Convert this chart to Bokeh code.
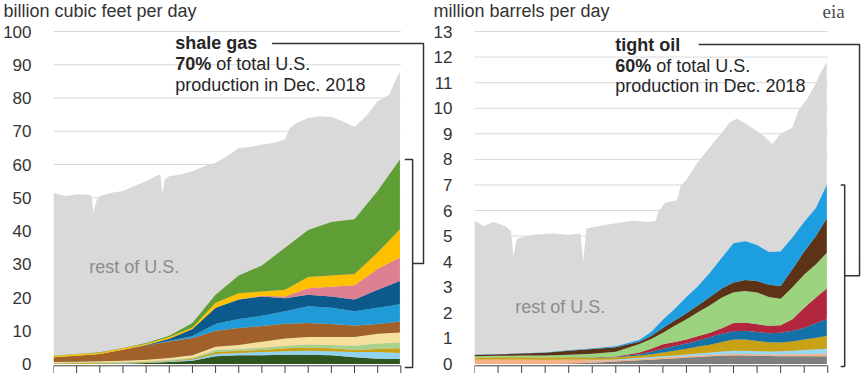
import numpy as np
from bokeh.plotting import figure
from bokeh.models import Label, Range1d, FixedTicker
from bokeh.layouts import row, column
from bokeh.embed import file_html
from bokeh.resources import INLINE

FONT = "Liberation Sans"

# ---------------- shale gas (billion cubic feet per day) ----------------
gas_total_x = [2004.0, 2004.5, 2005.0, 2005.5, 2005.65, 2005.72, 2005.85, 2006.0, 2006.5,
               2007.0, 2007.5, 2008.0, 2008.5, 2008.62, 2008.7, 2008.8, 2009.0, 2009.5,
               2010.0, 2010.5, 2011.0, 2011.5, 2012.0, 2012.5, 2013.0, 2013.5, 2014.0,
               2014.2, 2014.5, 2015.0, 2015.5, 2016.0, 2016.5, 2017.0, 2017.5, 2018.0,
               2018.5, 2018.75, 2018.96]
gas_total = [51.5, 50.5, 51.0, 51.0, 50.5, 45.5, 49.0, 50.5, 51.5,
             52.0, 53.5, 55.0, 56.8, 57.0, 51.0, 55.5, 56.5, 57.0,
             58.0, 59.5, 60.5, 62.5, 65.0, 65.3, 66.0, 66.5, 67.5,
             71.0, 72.5, 74.0, 74.5, 74.3, 73.0, 71.3, 74.5, 79.0,
             81.0, 85.0, 88.0]

gas_x = [2004, 2005, 2006, 2007, 2008, 2009, 2010, 2011, 2012, 2013, 2014, 2015, 2016,
         2017, 2018, 2018.96]
# upper boundary of each stacked play (cumulative), bottom to top
gas_dkgreen = [0.0, 0.0, 0.0, 0.1, 0.3, 0.6, 1.0, 2.3, 2.6, 2.6, 2.8, 2.8, 2.6, 2.0, 1.6, 1.5]
gas_ltblue = [0.1, 0.1, 0.1, 0.2, 0.4, 0.8, 1.3, 3.0, 3.3, 3.6, 3.8, 4.0, 3.8, 3.6, 3.6, 3.3]
gas_gold = [0.2, 0.3, 0.3, 0.4, 0.6, 1.0, 1.6, 3.6, 4.0, 4.2, 4.7, 4.9, 4.7, 4.2, 4.5, 4.7]
gas_ltgreen = [0.4, 0.5, 0.5, 0.6, 0.8, 1.2, 1.9, 4.2, 4.5, 4.9, 5.5, 5.9, 5.7, 5.5, 6.2, 6.5]
gas_ltyellow = [0.6, 0.7, 0.8, 1.0, 1.3, 1.8, 2.6, 5.2, 5.7, 6.7, 7.7, 8.1, 8.1, 8.1, 9.1, 9.5]
gas_brown = [2.0, 2.5, 3.0, 4.3, 5.6, 6.8, 7.8, 10.0, 10.8, 11.4, 12.1, 12.3, 12.0, 11.6, 12.0, 12.8]
gas_blue = [2.0, 2.5, 3.0, 4.3, 5.6, 7.0, 8.4, 12.0, 13.5, 14.5, 15.9, 17.4, 16.9, 15.9, 16.9, 18.0]
gas_dkblue = [2.0, 2.5, 3.0, 4.3, 5.7, 7.6, 10.5, 16.9, 19.4, 20.3, 19.8, 20.8, 20.3, 19.4, 22.3, 25.0]
gas_pink = [2.0, 2.5, 3.0, 4.3, 5.7, 7.6, 10.5, 16.9, 19.4, 20.5, 20.3, 22.8, 23.2, 23.7, 28.6, 32.0]
gas_yellow = [2.4, 2.9, 3.4, 4.7, 6.1, 8.1, 11.0, 18.4, 21.3, 21.8, 22.3, 26.2, 26.6, 27.1, 33.5, 40.5]
gas_green = [2.5, 3.0, 3.5, 4.8, 6.3, 8.5, 12.3, 20.8, 26.6, 29.6, 35.0, 40.3, 42.7, 43.5, 52.0, 61.5]

gas_layers = [gas_dkgreen, gas_ltblue, gas_gold, gas_ltgreen, gas_ltyellow, gas_brown,
              gas_blue, gas_dkblue, gas_pink, gas_yellow, gas_green]
gas_colors = ["#2f561f", "#8fd3ef", "#c9a114", "#a9d18e", "#f6e09e", "#a0612a",
              "#1f9bd7", "#0c5a8c", "#de7f92", "#ffc000", "#5e9e35"]
gas_ticks = [0, 10, 20, 30, 40, 50, 60, 70, 80, 90, 100]

# ---------------- tight oil (million barrels per day) ----------------
oil_total_x = [2004.0, 2004.4, 2004.8, 2005.3, 2005.55, 2005.65, 2005.8, 2006.5, 2007.3,
               2008.0, 2008.5, 2008.62, 2008.75, 2009.3, 2010.0, 2010.7, 2011.4, 2011.7,
               2011.8, 2012.1, 2012.6, 2012.75, 2013.0, 2013.45, 2014.1, 2014.55, 2014.85,
               2015.15, 2015.5, 2016.0, 2016.3, 2016.65, 2017.0, 2017.5, 2017.75, 2018.15,
               2018.45, 2018.7, 2018.96]
oil_total = [5.6, 5.4, 5.55, 5.4, 5.2, 4.2, 4.9, 5.05, 5.1,
             5.05, 5.1, 4.0, 5.3, 5.4, 5.5, 5.6, 5.55, 5.6,
             5.95, 6.3, 6.4, 6.95, 7.2, 7.85, 8.6, 9.1, 9.45,
             9.6, 9.4, 9.1, 8.9, 8.6, 9.0, 9.25, 9.9, 10.4,
             10.9, 11.4, 11.8]

oil_x = [2004, 2005, 2006, 2007, 2008, 2009, 2010, 2011, 2011.5, 2012, 2012.5, 2013, 2013.5,
         2014, 2014.5, 2015, 2015.5, 2016, 2016.5, 2017, 2017.5, 2018, 2018.5, 2018.96]
oil_gray = [0, 0, 0, 0, 0.02, 0.05, 0.1, 0.15, 0.17, 0.2, 0.22, 0.25, 0.27, 0.3, 0.32, 0.33,
            0.33, 0.32, 0.31, 0.3, 0.3, 0.3, 0.3, 0.3]
oil_peach = [0.18, 0.18, 0.18, 0.17, 0.17, 0.15, 0.15, 0.2, 0.22, 0.25, 0.28, 0.3, 0.33, 0.35,
             0.37, 0.39, 0.39, 0.38, 0.37, 0.37, 0.38, 0.38, 0.39, 0.4]
oil_ltblue = [0.18, 0.18, 0.18, 0.17, 0.18, 0.17, 0.18, 0.24, 0.27, 0.3, 0.33, 0.37, 0.41, 0.45,
              0.49, 0.52, 0.52, 0.5, 0.49, 0.5, 0.52, 0.55, 0.58, 0.6]
oil_gold = [0.25, 0.26, 0.26, 0.25, 0.26, 0.25, 0.26, 0.33, 0.38, 0.45, 0.52, 0.6, 0.68, 0.75,
            0.86, 0.96, 0.96, 0.9, 0.85, 0.84, 0.88, 0.96, 1.03, 1.1]
oil_teal = [0.25, 0.26, 0.26, 0.25, 0.26, 0.26, 0.28, 0.38, 0.48, 0.6, 0.7, 0.8, 0.92, 1.05,
            1.18, 1.28, 1.3, 1.25, 1.2, 1.22, 1.3, 1.41, 1.6, 1.75]
oil_crimson = [0.25, 0.26, 0.26, 0.25, 0.26, 0.26, 0.29, 0.45, 0.6, 0.77, 0.86, 0.96, 1.1, 1.22,
               1.4, 1.6, 1.62, 1.55, 1.5, 1.52, 1.75, 2.2, 2.6, 2.95]
oil_ltgreen = [0.30, 0.32, 0.33, 0.33, 0.36, 0.40, 0.48, 0.78, 0.98, 1.22, 1.5, 1.75, 2.03, 2.3,
               2.6, 2.81, 2.85, 2.8, 2.62, 2.55, 3.0, 3.5, 3.9, 4.35]
oil_brown = [0.35, 0.38, 0.41, 0.44, 0.52, 0.59, 0.66, 0.87, 1.1, 1.41, 1.7, 1.98, 2.3, 2.62,
             2.95, 3.19, 3.28, 3.25, 3.1, 3.05, 3.7, 4.4, 5.0, 5.7]
oil_blue = [0.36, 0.39, 0.42, 0.45, 0.54, 0.61, 0.69, 0.94, 1.25, 1.73, 2.15, 2.62, 3.05, 3.57,
            4.15, 4.72, 4.8, 4.65, 4.38, 4.4, 4.95, 5.55, 6.1, 7.0]

oil_layers = [oil_gray, oil_peach, oil_ltblue, oil_gold, oil_teal, oil_crimson, oil_ltgreen,
              oil_brown, oil_blue]
oil_colors = ["#7f7f7f", "#f4b183", "#9ad8f1", "#c9a114", "#1572a8", "#b2263e", "#9cd37f",
              "#5c3317", "#1d9ee0"]
oil_ticks = list(range(0, 14))

year_ticks = list(range(2004, 2020))

GRID = "#d9d9d9"
REST = "#d9d9d9"
TXT = "#262626"
AXIS = "#404040"
HEAD_H = 21
H = 352


def base_fig(width, border_left, xmax, ymin, ymax, yticks):
    p = figure(width=width, height=H, x_range=Range1d(2004, xmax), y_range=Range1d(ymin, ymax),
               output_backend="svg", toolbar_location=None,
               min_border_left=border_left, min_border_right=0, min_border_top=0,
               min_border_bottom=0)
    p.outline_line_color = None
    p.xgrid.visible = False
    p.ygrid.visible = False
    p.xaxis.visible = False
    p.background_fill_color = "white"
    p.border_fill_color = "white"
    ya = p.yaxis[0]
    ya.ticker = FixedTicker(ticks=yticks)
    ya.axis_line_color = None
    ya.major_tick_line_color = None
    ya.minor_tick_line_color = None
    ya.major_label_text_font = FONT
    ya.major_label_text_font_size = "17px"
    ya.major_label_text_color = "#333333"
    ya.major_label_standoff = 16
    # horizontal gridlines limited to the data span
    gy = [t for t in yticks if t > 0]
    p.segment(x0=[2004] * len(gy), x1=[2019] * len(gy), y0=gy, y1=gy, line_color=GRID, line_width=1)
    return p


def draw_time_axis(p, axis_y, ymin):
    p.line([year_ticks[0], year_ticks[-1]], [axis_y, axis_y], line_color=AXIS, line_width=1)
    p.segment(x0=year_ticks, x1=year_ticks, y0=[axis_y] * len(year_ticks),
              y1=[ymin] * len(year_ticks), line_color=AXIS, line_width=1)


def label(p, x, y, text, size="18px", bold=False, color=TXT, x_offset=0, font=FONT,
          baseline="middle"):
    p.add_layout(Label(x=x, y=y, text=text, text_font=font, text_font_size=size,
                       text_font_style="bold" if bold else "normal", text_color=color,
                       text_baseline=baseline, x_offset=x_offset))


# ---------- header strip (unit titles and logo) ----------
head = figure(width=865, height=HEAD_H, x_range=Range1d(0, 865), y_range=Range1d(0, HEAD_H),
              output_backend="svg", toolbar_location=None,
              min_border_left=0, min_border_right=0, min_border_top=0, min_border_bottom=0)
head.axis.visible = False
head.grid.visible = False
head.outline_line_color = None
label(head, 3, 10.5, "billion cubic feet per day", color="#333333")
label(head, 433, 10.5, "million barrels per day", color="#333333")
label(head, 822, 10.5, "eia", size="19px", color="#4d4d4d", font="Liberation Serif")

# ---------- left panel ----------
g_ymin, g_ymax, g_axis = -2.857, 103.01, -0.54
p1 = base_fig(430, 49, 2004 + 381 / 23.4, g_ymin, g_ymax, gas_ticks)
p1.varea(x=gas_total_x, y1=0, y2=gas_total, fill_color=REST)
prev = [0] * len(gas_x)
for top, col in zip(gas_layers, gas_colors):
    p1.varea(x=gas_x, y1=prev, y2=top, fill_color=col)
    prev = top
draw_time_axis(p1, g_axis, g_ymin)

g_top = gas_green[-1]
g_bot = -1.05
g_mid = (g_top + g_bot) / 2
p1.line([2019.17, 2019.51, 2019.51, 2019.17], [g_top, g_top, g_bot, g_bot], line_color="#333333", line_width=1.5)
p1.line([2019.51, 2019.98, 2019.98, 2013.44], [g_mid, g_mid, 96.4, 96.4], line_color="#333333", line_width=1.5)

label(p1, 2009.26, 96.4, "shale gas", bold=True)
label(p1, 2009.26, 90.1, "70%", bold=True)
label(p1, 2009.26, 90.1, "of total U.S.", x_offset=41)
label(p1, 2009.26, 83.8, "production in Dec. 2018")
label(p1, 2005.54, 29.3, "rest of U.S.", color="#8c8c8c")

# ---------- right panel ----------
o_ymin, o_ymax, o_axis = -0.371, 13.391, -0.07
p2 = base_fig(435, 41, 2004 + 394 / 23.73, o_ymin, o_ymax, oil_ticks)
p2.varea(x=oil_total_x, y1=0, y2=oil_total, fill_color=REST)
prev = [0] * len(oil_x)
for top, col in zip(oil_layers, oil_colors):
    p2.varea(x=oil_x, y1=prev, y2=top, fill_color=col)
    prev = top
draw_time_axis(p2, o_axis, o_ymin)

o_top = oil_blue[-1]
o_bot = -0.1
o_mid = (o_top + o_bot) / 2
p2.line([2019.55, 2019.72, 2019.72, 2019.55], [o_top, o_top, o_bot, o_bot], line_color="#333333", line_width=1.5)
p2.line([2019.72, 2020.35, 2020.35, 2013.52], [o_mid, o_mid, 12.49, 12.49], line_color="#333333", line_width=1.5)

label(p2, 2009.98, 12.49, "tight oil", bold=True)
label(p2, 2009.98, 11.67, "60%", bold=True)
label(p2, 2009.98, 11.67, "of total U.S.", x_offset=41)
label(p2, 2009.98, 10.85, "production in Dec. 2018")
label(p2, 2005.73, 2.21, "rest of U.S.", color="#8c8c8c")

layout = column(head, row(p1, p2))
open("out.html", "w").write(file_html(layout, INLINE))
